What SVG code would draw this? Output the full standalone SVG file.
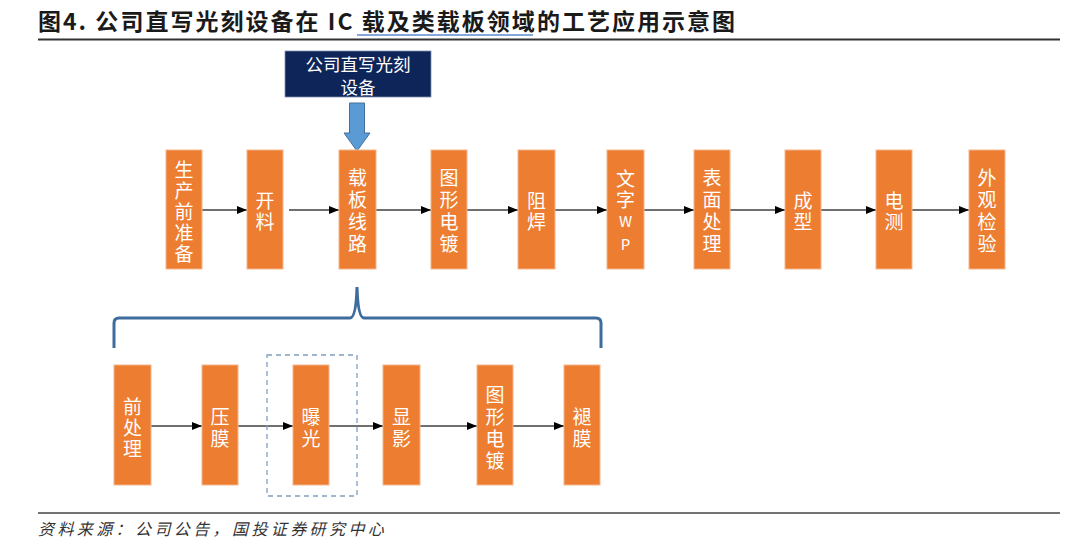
<svg xmlns="http://www.w3.org/2000/svg" width="1080" height="547" viewBox="0 0 1080 547">
<defs>
<style>
.box{fill:#ed7d31;stroke:#f4b68c;stroke-width:1}
.lbl{font-family:"Noto Sans CJK SC","Noto Sans",sans-serif;font-size:19px;fill:#ffffff;text-anchor:middle;dominant-baseline:central}
.con{stroke:#404040;stroke-width:1.3;fill:none;marker-end:url(#ah)}
</style>
<marker id="ah" markerWidth="10" markerHeight="8" refX="10" refY="4" orient="auto" markerUnits="userSpaceOnUse">
<path d="M0,0 L10,4 L0,8 Z" fill="#000000"/>
</marker>
</defs>
<rect width="1080" height="547" fill="#ffffff"/>
<g id="title">
<text x="38" y="30" font-family="'Noto Sans CJK SC','Noto Sans',sans-serif" font-size="23" font-weight="bold" fill="#1a1a1a" textLength="697" lengthAdjust="spacing">图4. 公司直写光刻设备在 IC 载及类载板领域的工艺应用示意图</text>
<line x1="357" y1="35" x2="533" y2="35" stroke="#5b8bd0" stroke-width="1.5"/>
<line x1="38" y1="39.5" x2="1060" y2="39.5" stroke="#333333" stroke-width="2"/>
</g>
<g id="equip">
<rect x="285" y="51" width="146" height="46" fill="#0e2559" stroke="#8090b0" stroke-width="0.8"/>
<text x="358" y="63" class="lbl" style="font-size:17.5px">公司直写光刻</text>
<text x="358" y="86" class="lbl" style="font-size:17.5px">设备</text>
</g>
<g id="equip-arrow">
<path d="M349.5,103 L364.5,103 L364.5,133 L370,133 L357,151 L344,133 L349.5,133 Z" fill="#5b9bd5" stroke="#41719c" stroke-width="1"/>
</g>
<g id="connectors">
<line class="con" x1="202" y1="210" x2="247" y2="210"/>
<line class="con" x1="289" y1="210" x2="339" y2="210"/>
<line class="con" x1="376" y1="210" x2="431" y2="210"/>
<line class="con" x1="467" y1="210" x2="518" y2="210"/>
<line class="con" x1="555" y1="210" x2="607" y2="210"/>
<line class="con" x1="644" y1="210" x2="694" y2="210"/>
<line class="con" x1="730" y1="210" x2="785" y2="210"/>
<line class="con" x1="821" y1="210" x2="876" y2="210"/>
<line class="con" x1="912" y1="210" x2="969" y2="210"/>
<line class="con" x1="151" y1="426" x2="202" y2="426"/>
<line class="con" x1="238" y1="426" x2="293" y2="426"/>
<line class="con" x1="329" y1="426" x2="383" y2="426"/>
<line class="con" x1="420" y1="426" x2="477" y2="426"/>
<line class="con" x1="513" y1="426" x2="564" y2="426"/>
</g>
<g id="brace">
<path d="M114,348 L114,323 Q114,318 119,318 L350,318 Q356,318 357,287 Q358,318 364,318 L596,318 Q601,318 601,323 L601,348" fill="none" stroke="#3e6c9e" stroke-width="3"/>
</g>
<g id="exposure-frame">
<rect x="267" y="355" width="90" height="141" fill="none" stroke="#7f9fbf" stroke-width="1.3" stroke-dasharray="5,4"/>
</g>
<g id="n1"><rect class="box" x="166" y="150" width="36" height="119"/>
<text class="lbl"><tspan x="184" y="168">生</tspan><tspan x="184" y="189">产</tspan><tspan x="184" y="210">前</tspan><tspan x="184" y="231">准</tspan><tspan x="184" y="252">备</tspan></text></g>
<g id="n2"><rect class="box" x="247" y="150" width="36" height="119"/>
<text class="lbl"><tspan x="265" y="199">开</tspan><tspan x="265" y="220">料</tspan></text></g>
<g id="n3"><rect class="box" x="339" y="150" width="37" height="119"/>
<text class="lbl"><tspan x="357.5" y="176">载</tspan><tspan x="357.5" y="198">板</tspan><tspan x="357.5" y="220">线</tspan><tspan x="357.5" y="242">路</tspan></text></g>
<g id="n4"><rect class="box" x="431" y="150" width="36" height="119"/>
<text class="lbl"><tspan x="449" y="176">图</tspan><tspan x="449" y="198">形</tspan><tspan x="449" y="220">电</tspan><tspan x="449" y="242">镀</tspan></text></g>
<g id="n5"><rect class="box" x="518" y="150" width="37" height="119"/>
<text class="lbl"><tspan x="536.5" y="199">阻</tspan><tspan x="536.5" y="220">焊</tspan></text></g>
<g id="n6"><rect class="box" x="607" y="150" width="37" height="119"/>
<text class="lbl"><tspan x="625.5" y="177">文</tspan><tspan x="625.5" y="198">字</tspan><tspan x="625.5" y="220" style="font-size:15px">W</tspan><tspan x="625.5" y="243" style="font-size:15px">P</tspan></text></g>
<g id="n7"><rect class="box" x="694" y="150" width="36" height="119"/>
<text class="lbl"><tspan x="712" y="176">表</tspan><tspan x="712" y="198">面</tspan><tspan x="712" y="220">处</tspan><tspan x="712" y="242">理</tspan></text></g>
<g id="n8"><rect class="box" x="785" y="150" width="36" height="119"/>
<text class="lbl"><tspan x="803" y="199">成</tspan><tspan x="803" y="220">型</tspan></text></g>
<g id="n9"><rect class="box" x="876" y="150" width="36" height="119"/>
<text class="lbl"><tspan x="894" y="199">电</tspan><tspan x="894" y="220">测</tspan></text></g>
<g id="n10"><rect class="box" x="969" y="150" width="36" height="119"/>
<text class="lbl"><tspan x="987" y="176">外</tspan><tspan x="987" y="198">观</tspan><tspan x="987" y="220">检</tspan><tspan x="987" y="242">验</tspan></text></g>
<g id="m1"><rect class="box" x="114" y="365" width="37" height="120"/>
<text class="lbl"><tspan x="132.5" y="405">前</tspan><tspan x="132.5" y="426">处</tspan><tspan x="132.5" y="447">理</tspan></text></g>
<g id="m2"><rect class="box" x="202" y="365" width="36" height="120"/>
<text class="lbl"><tspan x="220" y="415">压</tspan><tspan x="220" y="437">膜</tspan></text></g>
<g id="m3"><rect class="box" x="293" y="365" width="36" height="120"/>
<text class="lbl"><tspan x="311" y="415">曝</tspan><tspan x="311" y="437">光</tspan></text></g>
<g id="m4"><rect class="box" x="383" y="365" width="37" height="120"/>
<text class="lbl"><tspan x="401.5" y="415">显</tspan><tspan x="401.5" y="437">影</tspan></text></g>
<g id="m5"><rect class="box" x="477" y="365" width="36" height="120"/>
<text class="lbl"><tspan x="495" y="393">图</tspan><tspan x="495" y="415">形</tspan><tspan x="495" y="437">电</tspan><tspan x="495" y="459">镀</tspan></text></g>
<g id="m6"><rect class="box" x="564" y="365" width="36" height="120"/>
<text class="lbl"><tspan x="582" y="415">褪</tspan><tspan x="582" y="437">膜</tspan></text></g>
<g id="footer">
<line x1="38" y1="513" x2="1060" y2="513" stroke="#444444" stroke-width="1.5"/>
<text x="38" y="535" font-family="'Noto Sans CJK SC','Noto Sans',sans-serif" font-size="16" font-style="italic" letter-spacing="3.4" fill="#333333">资料来源：公司公告，国投证券研究中心</text>
</g>
</svg>
